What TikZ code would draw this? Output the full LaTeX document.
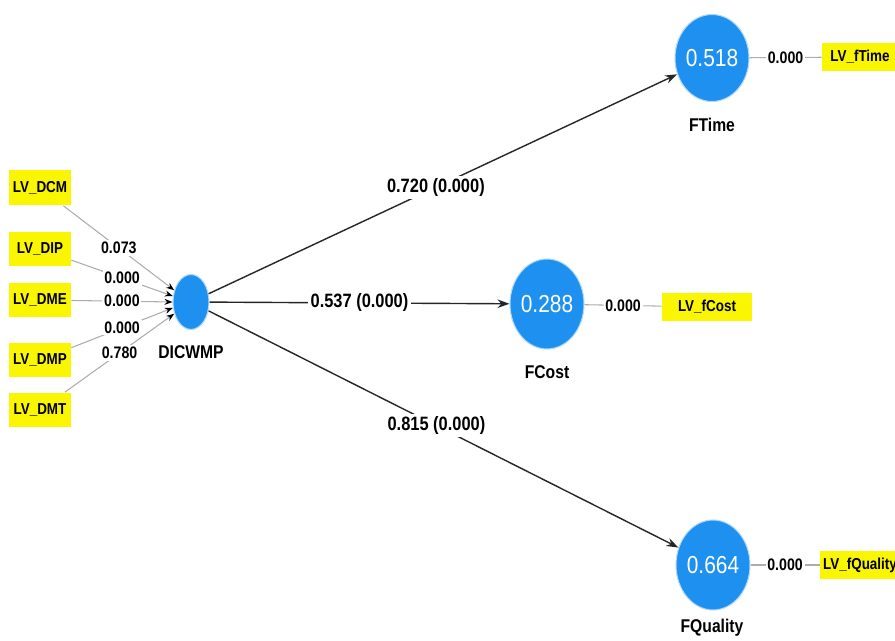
\documentclass[tikz,border=0pt]{standalone}
\usepackage{fontspec}
\setmainfont{Liberation Sans}[FakeStretch=0.85]
\usepackage{tikz}
\usetikzlibrary{arrows.meta,shapes.geometric}
\definecolor{plsblue}{RGB}{30,144,240}
\definecolor{plsyellow}{RGB}{250,245,0}
\tikzset{
  latent/.style   = {ellipse,fill=plsblue,draw=plsblue!35,line width=0.6pt,text=white,
                     font=\fontsize{14}{16}\selectfont,inner sep=0pt},
  indbox/.style   = {rectangle,fill=plsyellow,font=\bfseries\fontsize{9}{11}\selectfont,
                     inner sep=0pt,minimum width=1.24cm,minimum height=0.7cm},
  outbox/.style   = {indbox,minimum height=0.56cm},
  namelbl/.style  = {font=\bfseries\fontsize{10.5}{12}\selectfont,inner sep=1pt},
  pathlbl/.style  = {fill=white,text=black,font=\bfseries\fontsize{11}{13}\selectfont,inner sep=1.5pt},
  loadlbl/.style  = {fill=white,text=black,font=\bfseries\fontsize{9.5}{11}\selectfont,inner sep=1pt},
  patharr/.style  = {-{Stealth[length=2.4mm,width=1.7mm]},line width=0.8pt,black!85},
  loadarr/.style  = {-{Stealth[length=1.6mm,width=1.2mm,color=black]},gray!65,line width=0.6pt},
  loadline/.style = {gray!65,line width=0.6pt}
}

\begin{document}
\begin{tikzpicture}[x=0.02cm,y=-0.02cm]
  \useasboundingbox (0,0) rectangle (895,641);
  % latent variables
  \node[latent,minimum width=0.72cm,minimum height=1.1cm]  (dicwmp)   at (191,302) {};
  \node[latent,minimum width=1.22cm,minimum height=1.74cm] (ftime)    at (712,58)  {0.518};
  \node[latent,minimum width=1.22cm,minimum height=1.8cm]  (fcost)    at (547,304) {0.288};
  \node[latent,minimum width=1.22cm,minimum height=1.8cm]  (fquality) at (713,565) {0.664};
  \node[namelbl] (dicwmplbl)   at (191,352) {DICWMP};
  \node[namelbl] (ftimelbl)    at (712,125) {FTime};
  \node[namelbl] (fcostlbl)    at (547,372) {FCost};
  \node[namelbl] (fqualitylbl) at (712,628) {FQuality};
  % indicators of the outcomes
  \node[outbox,minimum width=1.52cm] (lvftime)    at (860,57)  {LV\_fTime};
  \node[outbox,minimum width=1.8cm]  (lvfcost)    at (707,307) {LV\_fCost};
  \node[outbox,minimum width=1.6cm]  (lvfquality) at (860,565) {LV\_fQuality};
  \draw[loadline] (ftime)    -- node[loadlbl] (wftime)    {0.000} (lvftime);
  \draw[loadline] (fcost)    -- node[loadlbl] (wfcost)    {0.000} (lvfcost);
  \draw[loadline] (fquality) -- node[loadlbl] (wfquality) {0.000} (lvfquality);
  % formative indicators of DICWMP
  \foreach \nm/\yy/\ang/\wt in {DCM/188/145/0.073,DIP/249/162/0.000,DME/300/180/0.000,
                                DMP/360/198/0.000,DMT/410/215/0.780}{
    \node[indbox] (lv\nm) at (40,\yy) {LV\_\nm};
    \draw[loadarr] (lv\nm) -- node[loadlbl] (w\nm) {\wt} (dicwmp.\ang);
  }
  % structural paths
  \draw[patharr] (dicwmp) -- node[pathlbl,pos=0.485] (pftime)    {0.720 (0.000)} (ftime);
  \draw[patharr] (dicwmp) -- node[pathlbl]           (pfcost)    {0.537 (0.000)} (fcost);
  \draw[patharr] (dicwmp) -- node[pathlbl,pos=0.485] (pfquality) {0.815 (0.000)} (fquality);
\end{tikzpicture}
\end{document}
